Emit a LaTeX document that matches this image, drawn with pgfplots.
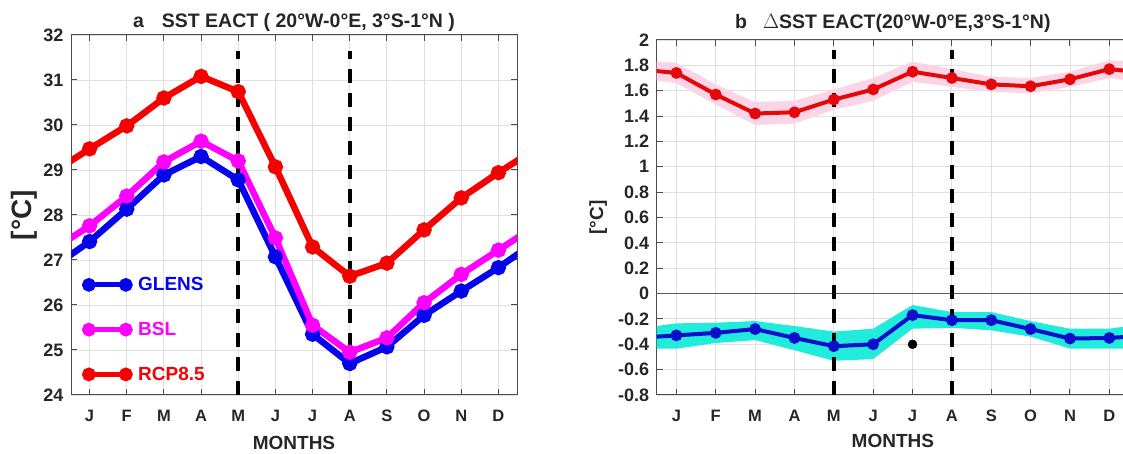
\documentclass[border=0pt]{standalone}
\usepackage{fontspec}
\setmainfont{Liberation Sans}
\usepackage{pgfplots}
\pgfplotsset{compat=1.18}
\usepgfplotslibrary{fillbetween}

\definecolor{glens}{rgb}{0.02,0.02,0.92}
\definecolor{bsl}{rgb}{1,0,1}
\definecolor{rcp}{rgb}{0.97,0,0}
\definecolor{dred}{rgb}{0.90,0.03,0.03}
\definecolor{dblue}{rgb}{0.05,0.05,0.80}
\definecolor{pinkband}{rgb}{0.99,0.83,0.91}
\definecolor{cyanband}{rgb}{0.13,0.92,0.86}
\definecolor{axgray}{rgb}{0.30,0.30,0.30}

\newcommand\fs[1]{\fontsize{#1}{#1}\selectfont\bfseries}

\pgfplotsset{
  mstyle/.style={
    scale only axis,
    xmin=0.5, xmax=12.5,
    xtick={1,...,12},
    xticklabels={J,F,M,A,M,J,J,A,S,O,N,D},
    grid=major,
    grid style={black!12, line width=0.9pt},
    axis line style={axgray, line width=1pt},
    tick style={axgray, line width=1pt},
    major tick length=6pt,
    tick align=inside,
    /pgf/number format/assume math mode=true,
    xticklabel style={font=\fs{16.5}, text=black!85, anchor=center, yshift=-21pt},
    yticklabel style={font=\fs{18}, text=black!85},
    xlabel={MONTHS},
    xlabel style={font=\fs{19}, text=black!85, anchor=center},
    title style={font=\fs{19.5}, text=black!85, anchor=center},
    ylabel style={text=black!85, anchor=center},
  },
  dash/.style={black, line width=3.6pt, dash pattern=on 14pt off 10pt, mark=none},
}

\begin{document}
\begin{tikzpicture}

% ---------- panel a ----------
\begin{axis}[mstyle,
  at={(71pt,59pt)}, anchor=south west,
  width=446pt, height=360pt,
  ymin=24, ymax=32, ytick={24,25,...,32},
  yticklabel style={xshift=-4pt},
  ylabel={[°C]},
  ylabel style={font=\fs{28}, at={(axis description cs:-0.105,0.5)}},
  xlabel style={at={(axis description cs:0.5,-0.133)}},
  title={a\hspace{18pt}SST EACT ( 20°W-0°E, 3°S-1°N )},
  title style={at={(axis description cs:0.5,1.019)}},
  legend style={draw=none, fill=none, at={(axis cs:0.86,26.66)}, anchor=north west,
    inner sep=0pt, row sep=26pt, column sep=6pt, font=\fs{19}},
  legend cell align=left,
  legend image code/.code={\draw[mark repeat=1,mark phase=1,#1,line width=5pt] plot coordinates {(0pt,0pt) (37pt,0pt)};},
]
\addplot[glens, line width=6.5pt, mark=*, mark size=4.3pt, mark options={solid}] coordinates {
(0,26.83) (1,27.41) (2,28.13) (3,28.89) (4,29.30) (5,28.78) (6,27.07)
(7,25.35) (8,24.70) (9,25.07) (10,25.77) (11,26.31) (12,26.83) (13,27.41)};
\addlegendentry{\textcolor{glens}{GLENS}}
\addplot[bsl, line width=6.5pt, mark=*, mark size=4.3pt, mark options={solid}] coordinates {
(0,27.22) (1,27.76) (2,28.42) (3,29.18) (4,29.64) (5,29.20) (6,27.49)
(7,25.55) (8,24.95) (9,25.27) (10,26.05) (11,26.68) (12,27.22) (13,27.76)};
\addlegendentry{\textcolor{bsl}{BSL}}
\addplot[rcp, line width=6.5pt, mark=*, mark size=4.3pt, mark options={solid}] coordinates {
(0,28.94) (1,29.47) (2,29.98) (3,30.60) (4,31.08) (5,30.74) (6,29.07)
(7,27.29) (8,26.64) (9,26.93) (10,27.67) (11,28.38) (12,28.94) (13,29.47)};
\addlegendentry{\textcolor{rcp}{RCP8.5}}
\addplot[dash, forget plot] coordinates {(5,24) (5,31.65)};
\addplot[dash, forget plot] coordinates {(8,24) (8,31.65)};
\end{axis}

% ---------- panel b ----------
\begin{axis}[mstyle,
  at={(656.7pt,59pt)}, anchor=south west,
  width=472.3pt, height=355pt,
  ymin=-0.8, ymax=2,
  ytick={-0.8,-0.6,-0.4,-0.2,0,0.2,0.4,0.6,0.8,1,1.2,1.4,1.6,1.8,2},
  yticklabel style={xshift=-4pt},
  ylabel={[°C]},
  ylabel style={font=\fs{19}, at={(axis description cs:-0.124,0.5)}},
  xlabel style={at={(axis description cs:0.5,-0.13)}},
  title={b\hspace{16pt}$\Delta$SST EACT(20°W-0°E,3°S-1°N)},
  title style={at={(axis description cs:0.5,1.031)}},
]
% red spread
\addplot[name path=ru, draw=none, forget plot] coordinates {
(0,1.84) (1,1.82) (2,1.65) (3,1.51) (4,1.52) (5,1.61) (6,1.70)
(7,1.83) (8,1.77) (9,1.71) (10,1.70) (11,1.75) (12,1.84) (13,1.82)};
\addplot[name path=rl, draw=none, forget plot] coordinates {
(0,1.70) (1,1.66) (2,1.49) (3,1.33) (4,1.34) (5,1.45) (6,1.52)
(7,1.67) (8,1.63) (9,1.59) (10,1.58) (11,1.63) (12,1.70) (13,1.66)};
\addplot[pinkband, draw=none, forget plot] fill between[of=ru and rl];
% blue spread
\addplot[name path=bu, draw=none, forget plot] coordinates {
(0,-0.277) (1,-0.235) (2,-0.23) (3,-0.217) (4,-0.256) (5,-0.30) (6,-0.277)
(7,-0.09) (8,-0.146) (9,-0.146) (10,-0.217) (11,-0.277) (12,-0.277) (13,-0.235)};
\addplot[name path=bl, draw=none, forget plot] coordinates {
(0,-0.434) (1,-0.435) (2,-0.39) (3,-0.367) (4,-0.447) (5,-0.53) (6,-0.517)
(7,-0.277) (8,-0.27) (9,-0.29) (10,-0.34) (11,-0.434) (12,-0.434) (13,-0.435)};
\addplot[cyanband, draw=none, forget plot] fill between[of=bu and bl];
% zero line
\addplot[black!65, line width=1.2pt, mark=none, forget plot] coordinates {(0,0) (13,0)};
% dashed markers
\addplot[dash, forget plot] coordinates {(5,-0.8) (5,1.92)};
\addplot[dash, forget plot] coordinates {(8,-0.8) (8,1.92)};
% means
\addplot[dred, line width=4pt, mark=*, mark size=3.8pt, mark options={solid}] coordinates {
(0,1.77) (1,1.74) (2,1.57) (3,1.42) (4,1.43) (5,1.53) (6,1.61)
(7,1.75) (8,1.70) (9,1.65) (10,1.635) (11,1.69) (12,1.77) (13,1.74)};
\addplot[dblue, line width=4pt, mark=*, mark size=3.8pt, mark options={solid}] coordinates {
(0,-0.35) (1,-0.33) (2,-0.31) (3,-0.28) (4,-0.35) (5,-0.415) (6,-0.40)
(7,-0.17) (8,-0.21) (9,-0.21) (10,-0.28) (11,-0.355) (12,-0.35) (13,-0.33)};
\addplot[black, only marks, mark=*, mark size=4.5pt] coordinates {(7,-0.40)};
\end{axis}

\pgfresetboundingbox
\useasboundingbox (0,0) rectangle (1123pt,454pt);
\end{tikzpicture}
\end{document}
